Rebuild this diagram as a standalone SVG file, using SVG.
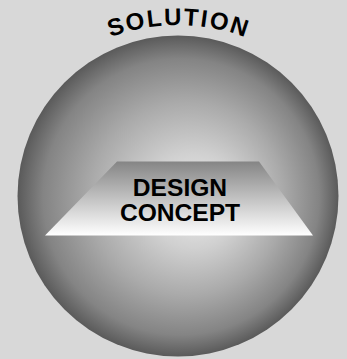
<svg xmlns="http://www.w3.org/2000/svg" width="347" height="359" viewBox="0 0 347 359">
  <style>
    .lbl { font-family: "Liberation Sans", Arial, sans-serif; font-weight: bold; fill: #000; }
  </style>
  <defs>
    <radialGradient id="sphereGrad" cx="0.5" cy="0.5" r="0.5" fx="0.57" fy="0.52">
      <stop offset="0" stop-color="#eeeeee"/>
      <stop offset="0.3" stop-color="#d0d0d0"/>
      <stop offset="0.6" stop-color="#aaaaaa"/>
      <stop offset="0.86" stop-color="#848484"/>
      <stop offset="1" stop-color="#5a5a5a"/>
    </radialGradient>
    <linearGradient id="trapGrad" x1="0" y1="0" x2="0" y2="1">
      <stop offset="0" stop-color="#858585"/>
      <stop offset="1" stop-color="#ffffff"/>
    </linearGradient>
    <path id="arcPath" d="M -13 216 A 191 191 0 0 1 369 216"/>
  </defs>
  <rect width="347" height="359" fill="#d8d8d8"/>
  <g id="sphere">
    <circle cx="178" cy="196" r="160.5" fill="url(#sphereGrad)"/>
  </g>
  <g id="solution-label">
    <text class="lbl" font-size="24" letter-spacing="1.9"><textPath href="#arcPath" startOffset="231">SOLUTION</textPath></text>
  </g>
  <g id="design-concept">
    <polygon points="117,161.5 259,161.5 313,235.5 45,235.5" fill="url(#trapGrad)"/>
    <text class="lbl" font-size="24.6" text-anchor="middle" x="180" y="195.5">DESIGN</text>
    <text class="lbl" font-size="24.6" text-anchor="middle" x="180" y="220.5">CONCEPT</text>
  </g>
  <g id="connectors"/>
</svg>
